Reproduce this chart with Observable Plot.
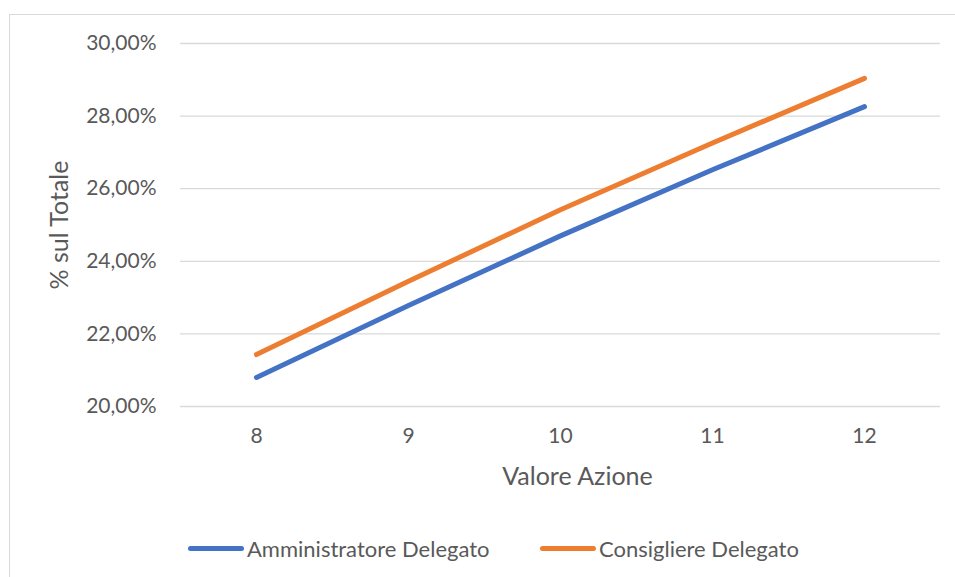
<!DOCTYPE html>
<html>
<head>
<meta charset="utf-8">
<script src="https://cdn.jsdelivr.net/npm/d3@7"></script>
<script src="https://cdn.jsdelivr.net/npm/@observablehq/plot@0.6"></script>
<style>
  html, body { margin: 0; padding: 0; background: #fff; overflow: hidden; width: 955px; height: 577px; }
  #wrap { position: relative; width: 955px; height: 577px; font-family: Lato, "Open Sans", sans-serif; color: #595959; }
  #frame { position: absolute; left: 9px; top: 14px; width: 960px; height: 600px; border: 1px solid #d9d9d9; box-sizing: border-box; }
  #chart { position: absolute; left: 0; top: 0; }
  #legend { position: absolute; left: 0; top: 535px; width: 955px; height: 26px; }
  .item { position: absolute; top: 0; display: flex; align-items: center; height: 26px; font-size: 22px; }
  .swatch { display: inline-block; height: 5px; border-radius: 3px; margin-right: 3px; }
</style>
</head>
<body>
<div id="wrap">
  <div id="frame"></div>
  <div id="chart"></div>
  <div id="legend"></div>
</div>
<script>
const valoreAzione = [8, 9, 10, 11, 12];
const seriesNames = ["Amministratore Delegato", "Consigliere Delegato"];
const amministratoreDelegato = [20.80, 22.78, 24.70, 26.52, 28.26];
const consigliereDelegato = [21.43, 23.45, 25.42, 27.26, 29.04];
const yTicks = [20, 22, 24, 26, 28, 30];
const colors = ["#4472C4", "#ED7D31"];

const data = [];
valoreAzione.forEach((x, i) => {
  data.push({x, y: amministratoreDelegato[i], s: seriesNames[0]});
  data.push({x, y: consigliereDelegato[i], s: seriesNames[1]});
});

const fmt = d => d.toFixed(2).replace(".", ",") + "%";

const chart = Plot.plot({
  width: 955,
  height: 500,
  marginLeft: 180,
  marginRight: 15,
  marginTop: 43,
  marginBottom: 94,
  style: { fontFamily: "Lato, 'Open Sans', sans-serif", fontSize: "21px", color: "#595959", background: "transparent", overflow: "visible" },
  x: { domain: [7.5, 12.5] },
  y: { domain: [20, 30] },
  color: { domain: seriesNames, range: colors },
  marks: [
    Plot.ruleY(yTicks, { stroke: "#d9d9d9", strokeWidth: 1.3 }),
    Plot.axisY({ ticks: yTicks, tickSize: 0, tickPadding: 24, tickFormat: fmt, label: "% sul Totale", labelAnchor: "center", labelOffset: 130, labelArrow: "none", fontSize: 21 }),
    Plot.axisX({ ticks: valoreAzione, tickSize: 0, tickPadding: 22, tickFormat: d => String(d), label: "Valore Azione", labelAnchor: "center", labelOffset: 78, labelArrow: "none", fontSize: 21 }),
    Plot.line(data, { x: "x", y: "y", z: "s", stroke: "s", strokeWidth: 5, strokeLinecap: "round", strokeLinejoin: "round" })
  ]
});
document.getElementById("chart").appendChild(chart);
chart.querySelectorAll("[aria-label='y-axis label'] text, [aria-label='x-axis label'] text").forEach(t => t.setAttribute("font-size", "25"));
chart.querySelectorAll("[aria-label='x-axis label'] text").forEach(t => {
  const x = parseFloat(t.getAttribute("x") || "0");
  t.setAttribute("x", x + 17);
});

const legend = document.getElementById("legend");
const lefts = [188, 540];
seriesNames.forEach((name, i) => {
  const item = document.createElement("div");
  item.className = "item";
  item.style.left = lefts[i] + "px";
  const sw = document.createElement("span");
  sw.className = "swatch";
  sw.style.width = "56px";
  sw.style.background = colors[i];
  const tx = document.createElement("span");
  tx.textContent = name;
  item.appendChild(sw);
  item.appendChild(tx);
  legend.appendChild(item);
});
</script>
</body>
</html>
